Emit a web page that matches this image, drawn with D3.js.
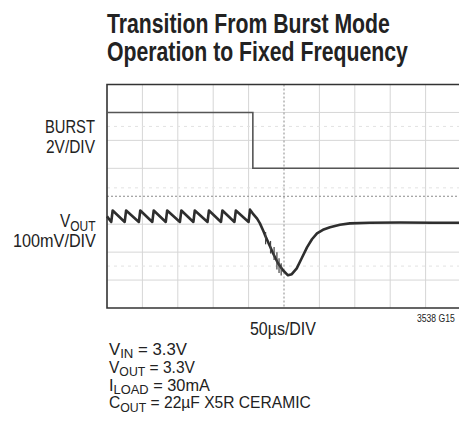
<!DOCTYPE html>
<html>
<head>
<meta charset="utf-8">
<script src="https://cdn.jsdelivr.net/npm/d3@7"></script>
<style>
  html, body { margin: 0; padding: 0; background: #fff; }
  text { font-family: "Liberation Sans", Arial, "Noto Sans", sans-serif; fill: #222; }
</style>
</head>
<body>
<div id="js_chart"></div>
<script>
// time axis, µs (50µs/DIV)
const timeTicks = [0, 50, 100, 150, 200, 250, 300, 350, 400, 450, 500];
// BURST trace, volts (2V/DIV)
const burstT = [0, 206, 206, 500];
const burstV = [4, 4, 0, 0];
// VOUT trace, mV deviation from centre line (100mV/DIV)
const voutT = [0, 6, 8, 25, 27, 45, 47, 64, 66, 83, 85, 103, 105, 122, 124, 142, 144, 161, 163, 180, 182, 200, 202,
  206, 212, 216, 221, 225, 230, 234.5, 241.5, 248.6, 255.6, 261, 268, 275, 282.5, 289.5, 296.6, 305, 315, 329, 343, 371, 414, 460, 500];
const voutMv = [-72, -92, -51, -92, -51, -92, -51, -92, -51, -92, -51, -92, -51, -92, -51, -92, -51, -92, -51, -92, -51, -92, -48,
  -62, -80, -97, -125, -150, -178, -204, -240, -265, -283, -279, -258, -222, -183, -154, -133, -120, -111, -102, -97, -95, -94, -95, -95];
// switching noise on the falling edge: [t, low mV, high mV]
const noiseT = [224, 231, 236, 240, 243, 246];
const noiseLo = [-172, -205, -228, -262, -275, -284];
const noiseHi = [-128, -160, -182, -200, -222, -240];

const conditions = [
  ["V", "IN", " = 3.3V"],
  ["V", "OUT", " = 3.3V"],
  ["I", "LOAD", " = 30mA"],
  ["C", "OUT", " = 22µF X5R CERAMIC"]
];
// right edge of each condition line, to mimic the condensed face
const conditionEnds = [187, 195, 210, 311];

const width = 459;
const height = 428;
const plotLeft = 107, plotTop = 84.5, plotBottom = 308;

const svg = d3.select("#js_chart")
  .append("svg")
  .attr("width", width)
  .attr("height", height);

const x = d3.scaleLinear().domain([0, 500]).range([plotLeft, 461]);
const yDiv = d3.scaleLinear().domain([-4, 4]).range([plotBottom, plotTop]);
const yBurst = d3.scaleLinear().domain([-10, 6]).range([plotBottom, plotTop]);
const yVout = d3.scaleLinear().domain([-400, 400]).range([plotBottom, plotTop]);

// squeeze a text horizontally so it spans x0..x1 (condensed look)
function fit(sel, x0, x1) {
  const b = sel.node().getBBox();
  const k = (x1 - x0) / b.width;
  sel.attr("transform", `translate(${x0},0) scale(${k},1) translate(${-b.x},0)`);
  return sel;
}

// title
const title = svg.append("g")
  .attr("font-weight", "bold")
  .attr("font-size", 27);
fit(title.append("text").attr("x", 0).attr("y", 33).text("Transition From Burst Mode"), 107, 390);
fit(title.append("text").attr("x", 0).attr("y", 61).text("Operation to Fixed Frequency"), 107, 408);

// grid
const grid = svg.append("g");
grid.selectAll(".vgrid")
  .data(timeTicks.filter(t => t > 0 && t !== 250))
  .join("line")
    .attr("x1", d => x(d)).attr("x2", d => x(d))
    .attr("y1", plotTop).attr("y2", plotBottom)
    .attr("stroke", "#d6d6d6");
grid.selectAll(".hgrid")
  .data(d3.range(-3, 4).filter(d => d !== 0))
  .join("line")
    .attr("x1", plotLeft).attr("x2", width)
    .attr("y1", d => yDiv(d)).attr("y2", d => yDiv(d))
    .attr("stroke", "#d6d6d6");
// faint ghost rows
grid.selectAll(".ghost")
  .data([2.5, 0.3, -2.5])
  .join("line")
    .attr("x1", plotLeft).attr("x2", width)
    .attr("y1", d => yDiv(d)).attr("y2", d => yDiv(d))
    .attr("stroke", "#e2e2e2")
    .attr("stroke-dasharray", "3,4");
// centre lines
grid.append("line")
  .attr("x1", x(250)).attr("x2", x(250))
  .attr("y1", plotTop).attr("y2", plotBottom)
  .attr("stroke", "#8a8a8a")
  .attr("stroke-dasharray", "2,2");
grid.append("line")
  .attr("x1", plotLeft).attr("x2", width)
  .attr("y1", yDiv(0)).attr("y2", yDiv(0))
  .attr("stroke", "#8a8a8a")
  .attr("stroke-dasharray", "2,2");

// frame (right side is cut off by the page)
svg.append("path")
  .attr("d", `M${width + 5},${plotTop}H${plotLeft}V${plotBottom}H${width + 5}`)
  .attr("fill", "none")
  .attr("stroke", "#333")
  .attr("stroke-width", 1.6);

// BURST trace
svg.append("path")
  .datum(d3.zip(burstT, burstV))
  .attr("fill", "none")
  .attr("stroke", "#555")
  .attr("stroke-width", 1.6)
  .attr("d", d3.line().x(d => x(d[0])).y(d => yBurst(d[1])));

// VOUT trace
svg.append("path")
  .datum(d3.zip(voutT, voutMv))
  .attr("fill", "none")
  .attr("stroke", "#2e2e2e")
  .attr("stroke-width", 2.6)
  .attr("stroke-linejoin", "round")
  .attr("d", d3.line().x(d => x(d[0])).y(d => yVout(d[1])));

svg.append("g")
  .selectAll("line")
  .data(d3.zip(noiseT, noiseLo, noiseHi))
  .join("line")
    .attr("x1", d => x(d[0])).attr("x2", d => x(d[0]))
    .attr("y1", d => yVout(d[1])).attr("y2", d => yVout(d[2]))
    .attr("stroke", "#444")
    .attr("stroke-width", 1.2);

// channel labels
const labels = svg.append("g")
  .attr("font-size", 18);
fit(labels.append("text").attr("y", 133).text("BURST"), 45, 95);
fit(labels.append("text").attr("y", 153.5).text("2V/DIV"), 46, 95);
const vout = labels.append("text").attr("y", 227);
vout.append("tspan").text("V");
vout.append("tspan").attr("font-size", 14).attr("dy", 4).text("OUT");
fit(vout, 60, 96);
fit(labels.append("text").attr("y", 247).text("100mV/DIV"), 13, 96);

// x scale label and figure number
fit(svg.append("text")
  .attr("y", 335)
  .attr("font-size", 18)
  .text("50µs/DIV"), 250, 316);
fit(svg.append("text")
  .attr("y", 322)
  .attr("font-size", 10.5)
  .text("3538 G15"), 417, 455);

// test conditions
svg.append("g")
  .attr("font-size", 16.5)
  .selectAll("text")
  .data(conditions)
  .join("text")
    .attr("y", (d, i) => 355 + i * 17.8)
    .each(function(d, i) {
      const t = d3.select(this);
      t.append("tspan").text(d[0]);
      t.append("tspan").attr("font-size", 13).attr("dy", 3.5).text(d[1]);
      t.append("tspan").attr("dy", -3.5).text(d[2]);
      fit(t, 109, conditionEnds[i]);
    });
</script>
</body>
</html>
